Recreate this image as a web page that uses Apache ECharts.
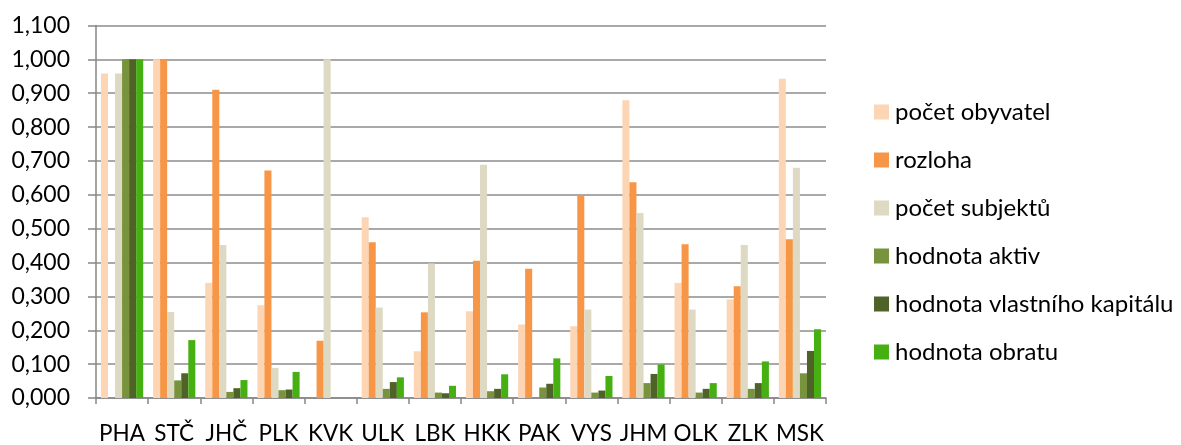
<!DOCTYPE html>
<html>
<head>
<meta charset="utf-8">
<script src="https://cdn.jsdelivr.net/npm/echarts@6/dist/echarts.min.js"></script>
<style>
  html, body { margin: 0; padding: 0; background: #fff; }
  #chart { width: 1181px; height: 445px; }
</style>
</head>
<body>
<div id="chart"></div>
<script>
// Kraje (regions)
const regions = ['PHA', 'STČ', 'JHČ', 'PLK', 'KVK', 'ULK', 'LBK', 'HKK', 'PAK', 'VYS', 'JHM', 'OLK', 'ZLK', 'MSK'];

// Relative indicators per region (share of the maximum)
const pocetObyvatel   = [0.958, 1.000, 0.340, 0.274, 0,     0.534, 0.138, 0.256, 0.217, 0.212, 0.879, 0.340, 0.291, 0.943];
const rozloha         = [0,     1.000, 0.910, 0.672, 0.169, 0.460, 0.253, 0.405, 0.382, 0.599, 0.637, 0.454, 0.330, 0.469];
const pocetSubjektu   = [0.958, 0.254, 0.452, 0.089, 1.000, 0.267, 0.397, 0.689, 0,     0.261, 0.546, 0.261, 0.452, 0.680];
const hodnotaAktiv    = [1.000, 0.052, 0.018, 0.023, 0,     0.027, 0.016, 0.020, 0.031, 0.016, 0.044, 0.016, 0.027, 0.073];
const hodnotaKapitalu = [1.000, 0.073, 0.029, 0.025, 0,     0.047, 0.014, 0.027, 0.042, 0.022, 0.071, 0.027, 0.044, 0.139];
const hodnotaObratu   = [1.000, 0.171, 0.053, 0.077, 0,     0.061, 0.036, 0.070, 0.117, 0.065, 0.099, 0.044, 0.108, 0.203];

const seriesDefs = [
  { name: 'počet obyvatel', data: pocetObyvatel, color: '#FCD5B4' },
  { name: 'rozloha', data: rozloha, color: '#F79646' },
  { name: 'počet subjektů', data: pocetSubjektu, color: '#DDD9C3' },
  { name: 'hodnota aktiv', data: hodnotaAktiv, color: '#77933C' },
  { name: 'hodnota vlastního kapitálu', data: hodnotaKapitalu, color: '#4F6228' },
  { name: 'hodnota obratu', data: hodnotaObratu, color: '#46B012' }
];

const FONT = 'Lato, "Open Sans", sans-serif';
const chart = echarts.init(document.getElementById('chart'), null, { renderer: 'canvas' });

chart.setOption({
  animation: false,
  backgroundColor: '#ffffff',
  textStyle: { fontFamily: FONT },
  grid: { left: 96, right: 355, top: 25.5, bottom: 43.7, containLabel: false },
  legend: {
    orient: 'vertical',
    left: 869,
    top: 95,
    itemWidth: 15,
    itemHeight: 15,
    itemGap: 24,
    icon: 'rect',
    textStyle: { fontFamily: FONT, fontSize: 24, color: '#000', lineHeight: 24, padding: [0, 0, 0, 1] },
    data: seriesDefs.map(s => s.name)
  },
  xAxis: {
    type: 'category',
    data: regions,
    axisLine: { show: true, lineStyle: { color: '#868686', width: 1.5 } },
    axisTick: { show: true, alignWithLabel: false, length: 6, lineStyle: { color: '#868686', width: 1.5 } },
    axisLabel: { fontFamily: FONT, fontSize: 22.5, color: '#000', margin: 24, interval: 0 },
    splitLine: { show: false }
  },
  yAxis: {
    type: 'value',
    min: 0,
    max: 1.1,
    interval: 0.1,
    axisLine: { show: true, lineStyle: { color: '#868686', width: 1.5 } },
    axisTick: { show: true, inside: false, length: 8, lineStyle: { color: '#868686', width: 1.5 } },
    axisLabel: {
      fontFamily: FONT, fontSize: 23, color: '#000', margin: 26,
      formatter: v => v.toFixed(3).replace('.', ',')
    },
    splitLine: { show: true, lineStyle: { color: '#8c8c8c', width: 1.5 } }
  },
  series: seriesDefs.map(s => ({
    name: s.name,
    type: 'bar',
    data: s.data,
    barGap: '0%',
    barCategoryGap: '19%',
    itemStyle: { color: s.color },
    emphasis: { disabled: true }
  }))
});
</script>
</body>
</html>
